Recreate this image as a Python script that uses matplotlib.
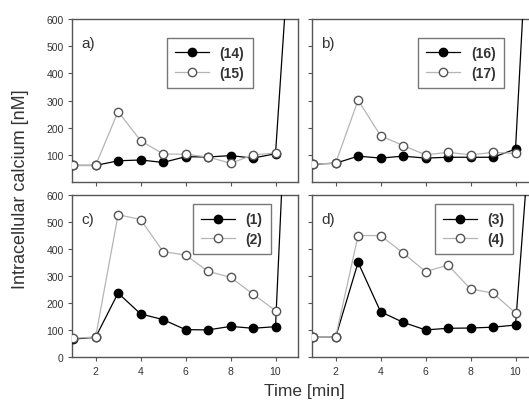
import numpy as np
import matplotlib.pyplot as plt

plt.rcParams['font.family'] = ['Liberation Sans', 'DejaVu Sans']

# Time points (min) and calcium values (nM)
time = [1, 2, 3, 4, 5, 6, 7, 8, 9, 10]
spike_time = 11  # calibration spike after 10 min (off-axis)

ca_14 = [62, 62, 79, 82, 73, 94, 93, 98, 89, 105]
ca_15 = [62, 62, 260, 153, 104, 103, 93, 70, 100, 108]
ca_16 = [67, 70, 96, 89, 96, 89, 92, 92, 92, 122]
ca_17 = [67, 70, 302, 171, 135, 101, 110, 101, 110, 106]
ca_1 = [67, 74, 237, 160, 139, 102, 101, 114, 107, 113]
ca_2 = [70, 75, 526, 508, 390, 377, 317, 295, 233, 172]
ca_3 = [74, 74, 350, 168, 129, 101, 107, 108, 111, 119]
ca_4 = [74, 74, 449, 449, 385, 316, 340, 252, 237, 163]
spike = {'a': 1340, 'b': 1660, 'c': 1940, 'd': 1215}

panels = [
    ('a', ca_14, ca_15, '(14)', '(15)'),
    ('b', ca_16, ca_17, '(16)', '(17)'),
    ('c', ca_1, ca_2, '(1)', '(2)'),
    ('d', ca_3, ca_4, '(3)', '(4)'),
]

W, H = 529, 406
fig = plt.figure(figsize=(W / 100, H / 100), dpi=100)

# axes boxes in pixels: left, top, width, height
boxes = {
    'a': (72, 20, 226, 163.3),
    'b': (312, 20, 226, 163.3),
    'c': (72, 195.6, 226, 162.7),
    'd': (312, 195.6, 226, 162.7),
}
legend_pos = {'a': (0.42, 0.884), 'b': (0.469, 0.884), 'c': (0.535, 0.942), 'd': (0.544, 0.942)}

edge = '#555555'
txt = '#333333'

for name, filled, hollow, lab1, lab2 in panels:
    l, t, w, h = boxes[name]
    ax = fig.add_axes([l / W, 1 - (t + h) / H, w / W, h / H])

    ax.plot(time + [spike_time], filled + [spike[name]], color='black', lw=0.9,
            marker='o', markevery=list(range(len(time))), ms=6,
            mfc='black', mec='black', label=lab1, zorder=3)
    ax.plot(time, hollow, color='#b5b5b5', lw=0.9, marker='o', ms=6,
            mfc='white', mec=edge, mew=1.0, label=lab2, zorder=4)

    ax.set_xlim(0.95, 11)
    ax.set_ylim(0, 600)
    ax.set_xticks([2, 4, 6, 8, 10])
    if name in ('a', 'b'):
        ax.set_yticks([100, 200, 300, 400, 500, 600])
    else:
        ax.set_yticks([0, 100, 200, 300, 400, 500, 600])
    ax.tick_params(direction='out', length=3, width=0.8, colors=edge,
                   labelcolor=txt, labelsize=7.5, pad=3)
    if name in ('a', 'b'):
        ax.tick_params(labelbottom=False)
    if name in ('b', 'd'):
        ax.tick_params(labelleft=False)
    for s in ax.spines.values():
        s.set_color(edge)
        s.set_linewidth(1.0)

    ax.text(0.04, 0.85, name + ')', transform=ax.transAxes, fontsize=11,
            color=txt, ha='left', va='center')

    leg = ax.legend(loc='upper left', bbox_to_anchor=legend_pos[name],
                    borderaxespad=0, fancybox=False, framealpha=1,
                    edgecolor='#777777', handlelength=2.4,
                    handletextpad=0.8, labelspacing=0.4, borderpad=0.6,
                    prop={'weight': 'bold', 'size': 10})
    leg.get_frame().set_linewidth(1.0)
    for tx in leg.get_texts():
        tx.set_color(txt)

fig.text(21 / W, 1 - 189 / H, 'Intracellular calcium [nM]', rotation=90,
         ha='center', va='center', fontsize=13, color=txt)
fig.text(304 / W, 1 - 392 / H, 'Time [min]', ha='center', va='center',
         fontsize=12.5, color=txt)

fig.savefig('out.png', dpi=100)
